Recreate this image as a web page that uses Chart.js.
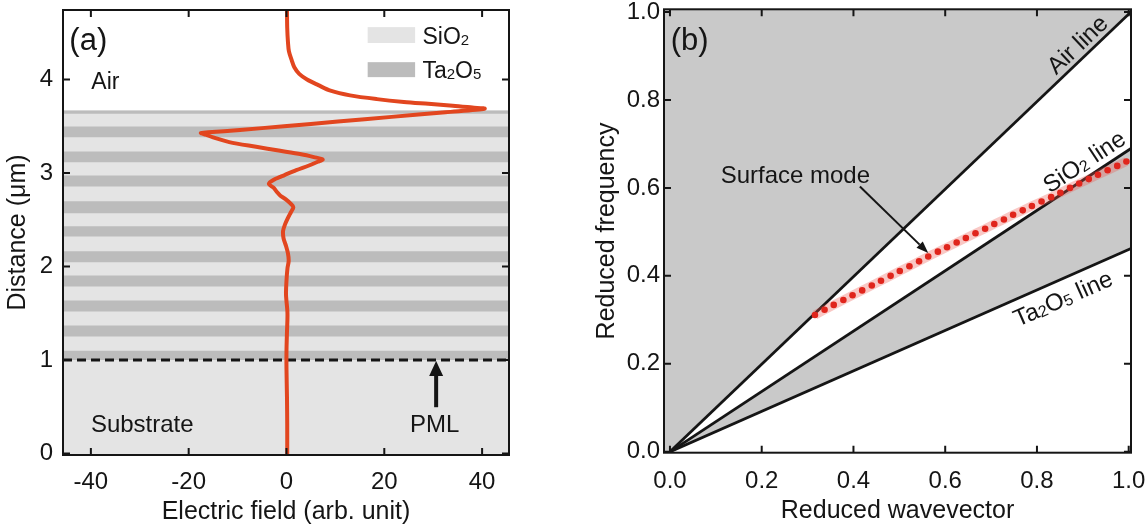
<!DOCTYPE html>
<html>
<head>
<meta charset="utf-8">
<script src="https://cdn.jsdelivr.net/npm/chart.js@4.4.1/dist/chart.umd.min.js"></script>
<style>
  html, body { margin: 0; padding: 0; background: #fff; }
  #wrap { position: relative; width: 1147px; height: 530px; overflow: hidden; }
  canvas { position: absolute; top: 0; }
  #chart-a { left: 0; }
  #chart-b { left: 560px; }
</style>
</head>
<body>
<div id="wrap">
  <canvas id="chart-a" width="560" height="530"></canvas>
  <canvas id="chart-b" width="587" height="530"></canvas>
</div>
<script>
// ---------- panel (a): field profile through the multilayer ----------
const fieldDist = [4.74, 4.55, 4.40, 4.30, 4.20, 4.13, 4.06, 4.00, 3.94, 3.88,
                   3.83, 3.79, 3.76, 3.74, 3.72, 3.70, 3.687, 3.65, 3.60, 3.55,
                   3.50, 3.46, 3.435, 3.428, 3.41, 3.38, 3.33, 3.28, 3.24, 3.20,
                   3.17, 3.145, 3.12, 3.08, 3.03, 2.98, 2.955, 2.93, 2.885, 2.84,
                   2.80, 2.76, 2.72, 2.67, 2.634, 2.58, 2.52, 2.45, 2.38, 2.30,
                   2.22, 2.14, 2.06, 1.98, 1.85, 1.70, 1.50, 1.30, 1.10, 0.90,
                   0.60, 0.30, 0.00];
const fieldVal  = [0.1, 0.15, 0.3, 0.5, 1.1, 1.6, 2.6, 4.2, 6.5, 9.0,
                   13.0, 18.5, 24.0, 29.0, 34.0, 38.0, 40.5, 32.5, 21.5, 10.5,
                   -0.5, -9.5, -16.0, -17.5, -16.5, -15.0, -11.7, -6.2, -1.6, 3.0,
                   5.6, 7.4, 6.4, 4.6, 2.0, -0.3, -1.4, -2.5, -3.6, -2.6,
                   -2.0, -1.3, -0.2, 0.9, 1.4, 0.9, 0.3, -0.3, -0.7, -0.6,
                   -0.1, 0.3, 0.45, 0.2, 0.0, -0.1, 0.2, 0.1, 0.0, 0.0,
                   0.1, 0.15, 0.15];

// Ta2O5 layers (dark bands), SiO2 + substrate fill the rest up to the stack top
const ta2o5Bottom = [1.00, 1.251, 1.519, 1.786, 2.046, 2.32, 2.57, 2.856, 3.116, 3.383, 3.633];
const ta2o5Top    = [1.10, 1.369, 1.636, 1.904, 2.164, 2.43, 2.698, 2.973, 3.23, 3.497, 3.668];
const stackTop = 3.668;
const pmlDepth = 1.0;

const xTicksA = [-40, -20, 0, 20, 40];
const yTicksA = [0, 1, 2, 3, 4];
const xMinA = -45.7, xMaxA = 45.5, yMinA = -0.016, yMaxA = 4.743;

// ---------- panel (b): light lines and surface mode ----------
const lineK  = [0, 1.01];
const airW   = [0, 1.005];
const sio2W  = [0, 0.693];
const ta2o5W = [0, 0.4646];

const modeK = [0.316, 0.337, 0.357, 0.378, 0.398, 0.419, 0.440, 0.460, 0.481, 0.501,
               0.522, 0.543, 0.563, 0.584, 0.604, 0.625, 0.645, 0.666, 0.687, 0.707,
               0.728, 0.748, 0.769, 0.789, 0.810, 0.831, 0.851, 0.872, 0.892, 0.913,
               0.933, 0.954, 0.975, 0.995];
const modeW = [0.311, 0.323, 0.334, 0.345, 0.356, 0.367, 0.378, 0.389, 0.400, 0.411,
               0.422, 0.433, 0.444, 0.455, 0.465, 0.476, 0.486, 0.497, 0.507, 0.518,
               0.528, 0.539, 0.549, 0.559, 0.569, 0.579, 0.589, 0.600, 0.610, 0.620,
               0.630, 0.640, 0.650, 0.660];

const xTicksB = [0, 0.2, 0.4, 0.6, 0.8, 1.0];
const yTicksB = [0, 0.2, 0.4, 0.6, 0.8, 1.0];
const xMinB = -0.013, xMaxB = 1.005, yMinB = -0.002, yMaxB = 1.006;

// ---------- styles ----------
const FONT = "'Liberation Sans', Arial, Helvetica, sans-serif";
const INK = '#151515';
const LIGHT = '#e4e4e4';
const DARK = '#bcbcbc';
const GRAY_B = '#c9c9c9';
const RED = '#e2461f';

Chart.defaults.font.family = FONT;
Chart.defaults.color = INK;

function pts(xs, ys) { return xs.map((v, i) => ({ x: v, y: ys[i] })); }

function richText(ctx, parts, size, x, y, align) {
  const fontOf = sub => (sub ? Math.round(size * 0.66) : size) + 'px ' + FONT;
  const widths = parts.map(([t, sub]) => { ctx.font = fontOf(sub); return ctx.measureText(t).width; });
  const total = widths.reduce((a, b) => a + b, 0);
  let cx = align === 'center' ? x - total / 2 : align === 'right' ? x - total : x;
  parts.forEach(([t, sub], i) => {
    ctx.font = fontOf(sub);
    ctx.fillText(t, cx, y + (sub ? size * 0.04 : 0));
    cx += widths[i];
  });
}

function arrow(ctx, x0, y0, x1, y1, w, headLen, headHalf) {
  const a = Math.atan2(y1 - y0, x1 - x0);
  const bx = x1 - headLen * Math.cos(a), by = y1 - headLen * Math.sin(a);
  ctx.lineWidth = w;
  ctx.beginPath(); ctx.moveTo(x0, y0); ctx.lineTo(bx, by); ctx.stroke();
  ctx.beginPath();
  ctx.moveTo(x1, y1);
  ctx.lineTo(bx + headHalf * Math.sin(a), by - headHalf * Math.cos(a));
  ctx.lineTo(bx - headHalf * Math.sin(a), by + headHalf * Math.cos(a));
  ctx.closePath(); ctx.fill();
}

// annotations placed in data coordinates
function makeNotes(items) {
  return {
    id: 'notes',
    afterDatasetsDraw(chart) {
      const { ctx, scales: { x, y } } = chart;
      ctx.save();
      ctx.fillStyle = INK; ctx.strokeStyle = INK; ctx.textBaseline = 'alphabetic';
      items.forEach(it => {
        if (it.kind === 'box') {
          const x0 = x.getPixelForValue(it.x0), x1 = x.getPixelForValue(it.x1);
          const y0 = y.getPixelForValue(it.y0), y1 = y.getPixelForValue(it.y1);
          ctx.fillStyle = it.color;
          ctx.fillRect(x0, y1, x1 - x0, y0 - y1);
          ctx.fillStyle = INK;
        } else if (it.kind === 'arrow') {
          arrow(ctx, x.getPixelForValue(it.x0), y.getPixelForValue(it.y0),
                x.getPixelForValue(it.x1), y.getPixelForValue(it.y1), it.w, it.len, it.half);
        } else {
          const px = x.getPixelForValue(it.x), py = y.getPixelForValue(it.y);
          if (it.along !== undefined) {
            const p = chart.getDatasetMeta(it.along).data;
            const ang = Math.atan2(p[1].y - p[0].y, p[1].x - p[0].x);
            ctx.save();
            ctx.translate(px, py); ctx.rotate(ang);
            richText(ctx, it.parts, it.size, 0, it.size * 0.36, 'center');
            ctx.restore();
          } else {
            richText(ctx, it.parts, it.size, px, py, it.align || 'left');
          }
        }
      });
      ctx.restore();
    }
  };
}

// frame with inward ticks on all four sides
function makeFrame(xTicks, yTicks, bg) {
  return {
    id: 'frame',
    beforeDraw(chart) {
      if (!bg) return;
      const a = chart.chartArea;
      chart.ctx.save();
      chart.ctx.fillStyle = bg;
      chart.ctx.fillRect(a.left, a.top, a.width, a.height);
      chart.ctx.restore();
    },
    afterDraw(chart) {
      const { ctx, chartArea: a, scales: { x, y } } = chart;
      const len = 7;
      ctx.save();
      ctx.strokeStyle = INK; ctx.lineWidth = 2;
      ctx.beginPath();
      xTicks.forEach(v => {
        const p = x.getPixelForValue(v);
        ctx.moveTo(p, a.bottom); ctx.lineTo(p, a.bottom - len);
        ctx.moveTo(p, a.top); ctx.lineTo(p, a.top + len);
      });
      yTicks.forEach(v => {
        const p = y.getPixelForValue(v);
        ctx.moveTo(a.left, p); ctx.lineTo(a.left + len, p);
        ctx.moveTo(a.right, p); ctx.lineTo(a.right - len, p);
      });
      ctx.stroke();
      ctx.strokeRect(a.left, a.top, a.right - a.left, a.bottom - a.top);
      ctx.restore();
    }
  };
}

function scaleOpts(min, max, tickVals, fixed, tickPad, title, titlePad, fmt) {
  return {
    type: 'linear', min, max,
    afterBuildTicks: s => { s.ticks = tickVals.map(v => ({ value: v })); },
    afterFit: s => {
      if (s.isHorizontal()) s.height = fixed; else s.width = fixed;
      s.paddingLeft = s.paddingRight = s.paddingTop = s.paddingBottom = 0;
    },
    grid: { display: false, drawTicks: false },
    border: { display: false },
    ticks: { padding: tickPad, color: INK, font: { size: 24 }, maxRotation: 0, autoSkip: false,
             callback: fmt || (v => String(v)) },
    title: { display: true, text: title, color: INK, font: { size: 25 }, padding: titlePad }
  };
}

// ---------- chart (a) ----------
const bandSets = ta2o5Bottom.map((b, i) => ({
  data: pts([xMinA, xMaxA], [ta2o5Top[i], ta2o5Top[i]]),
  showLine: true, borderWidth: 0, pointRadius: 0,
  backgroundColor: DARK, fill: { value: b }
}));

new Chart(document.getElementById('chart-a'), {
  type: 'scatter',
  data: {
    datasets: [
      { data: pts(fieldVal, fieldDist), showLine: true, borderColor: RED, borderWidth: 4,
        tension: 0.3, pointRadius: 0, fill: false, borderCapStyle: 'round', borderJoinStyle: 'round' },
      { data: pts([xMinA, xMaxA], [pmlDepth, pmlDepth]), showLine: true, borderColor: INK,
        borderWidth: 3, borderDash: [9, 5], pointRadius: 0, fill: false },
      ...bandSets,
      { data: pts([xMinA, xMaxA], [stackTop, stackTop]), showLine: true, borderWidth: 0,
        pointRadius: 0, backgroundColor: LIGHT, fill: 'start' }
    ]
  },
  options: {
    responsive: false, animation: false, devicePixelRatio: 1,
    layout: { padding: { left: 0, top: 10, right: 51, bottom: 0 } },
    plugins: { legend: { display: false }, tooltip: { enabled: false },
               filler: { drawTime: 'beforeDatasetsDraw' } },
    scales: {
      x: scaleOpts(xMinA, xMaxA, xTicksA, 75, 13, 'Electric field (arb. unit)', { top: 0, bottom: 3 }),
      y: scaleOpts(yMinA, yMaxA, yTicksA, 63, 10, 'Distance (μm)', { top: 3, bottom: 0 })
    }
  },
  plugins: [
    makeFrame(xTicksA, yTicksA, null),
    makeNotes([
      { x: -44.4, y: 4.31, parts: [['(a)']], size: 31 },
      { x: -39.9, y: 3.90, parts: [['Air']], size: 23 },
      { x: -40.0, y: 0.235, parts: [['Substrate']], size: 24 },
      { x: 30.3, y: 0.235, parts: [['PML']], size: 24, align: 'center' },
      { kind: 'arrow', x0: 30.6, y0: 0.495, x1: 30.6, y1: 0.99, w: 4, len: 15, half: 7 },
      { kind: 'box', x0: 16.6, x1: 26.3, y0: 4.39, y1: 4.56, color: LIGHT },
      { kind: 'box', x0: 16.6, x1: 26.3, y0: 4.025, y1: 4.185, color: DARK },
      { x: 27.8, y: 4.38, parts: [['SiO'], ['2', true]], size: 23 },
      { x: 27.8, y: 4.02, parts: [['Ta'], ['2', true], ['O'], ['5', true]], size: 23 }
    ])
  ]
});

// ---------- chart (b) ----------
new Chart(document.getElementById('chart-b'), {
  type: 'scatter',
  data: {
    datasets: [
      { data: pts(modeK, modeW), pointRadius: 3.3, pointBackgroundColor: '#e0251c',
        pointBorderWidth: 0, showLine: false },
      { data: pts(modeK, modeW), showLine: true, borderColor: 'rgba(235,85,75,0.32)',
        borderWidth: 9, pointRadius: 0, fill: false },
      { data: pts(lineK, airW), showLine: true, borderColor: INK, borderWidth: 2.8, pointRadius: 0, fill: false },
      { data: pts(lineK, sio2W), showLine: true, borderColor: INK, borderWidth: 2.8, pointRadius: 0, fill: false },
      { data: pts(lineK, ta2o5W), showLine: true, borderColor: INK, borderWidth: 2.8, pointRadius: 0, fill: false },
      { data: pts(lineK, airW), showLine: true, borderWidth: 0, pointRadius: 0,
        backgroundColor: '#ffffff', fill: 3 },
      { data: pts(lineK, ta2o5W), showLine: true, borderWidth: 0, pointRadius: 0,
        backgroundColor: '#ffffff', fill: 'start' }
    ]
  },
  options: {
    responsive: false, animation: false, devicePixelRatio: 1,
    layout: { padding: { left: 0, top: 9.3, right: 16, bottom: 0 } },
    plugins: { legend: { display: false }, tooltip: { enabled: false },
               filler: { drawTime: 'beforeDatasetsDraw' } },
    scales: {
      x: scaleOpts(xMinB, xMaxB, xTicksB, 77.3, 14.5, 'Reduced wavevector', { top: 0, bottom: 3.5 }, v => v.toFixed(1)),
      y: scaleOpts(yMinB, yMaxB, yTicksB, 104, 4, 'Reduced frequency', { top: 32, bottom: 0 }, v => v.toFixed(1))
    }
  },
  plugins: [
    makeFrame(xTicksB, yTicksB, GRAY_B),
    makeNotes([
      { x: 0.0015, y: 0.9125, parts: [['(b)']], size: 31 },
      { x: 0.1105, y: 0.6107, parts: [['Surface mode']], size: 24 },
      { kind: 'arrow', x0: 0.414, y0: 0.603, x1: 0.563, y1: 0.452, w: 2, len: 12, half: 4.5 },
      { x: 0.887, y: 0.927, parts: [['Air line']], size: 24, along: 2 },
      { x: 0.902, y: 0.661, parts: [['SiO'], ['2', true], [' line']], size: 24, along: 3 },
      { x: 0.856, y: 0.350, parts: [['Ta'], ['2', true], ['O'], ['5', true], [' line']], size: 24, along: 4 }
    ])
  ]
});
</script>
</body>
</html>
